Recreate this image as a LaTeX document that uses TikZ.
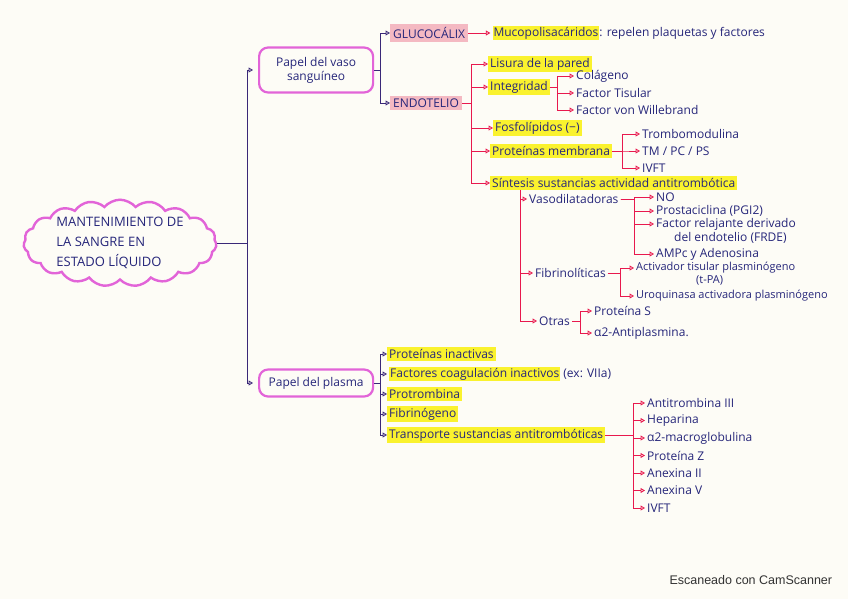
\documentclass[tikz,border=0pt]{standalone}
\usepackage{fontspec}
\setmainfont{Open Sans}
\newfontfamily\scanfont{Liberation Sans}
\usepackage{xcolor}
\usepackage{tikz}
\usetikzlibrary{arrows.meta,positioning,shapes.symbols}

\definecolor{tinta}{HTML}{26267A}
\definecolor{morado}{HTML}{3A2878}
\definecolor{rojo}{HTML}{E8194E}
\definecolor{rosa}{HTML}{E264D8}
\definecolor{amarillo}{HTML}{FAF22E}
\definecolor{rosaclaro}{HTML}{F4B9C2}
\definecolor{fondo}{HTML}{FDFCF6}

\newcommand{\resaltar}[1]{{\setlength{\fboxsep}{1pt}\colorbox{amarillo}{#1}}}

\begin{document}
\begin{tikzpicture}[x=1pt, y=1pt,
    nube/.style={cloud, cloud puffs=19, cloud puff arc=100, aspect=2.6, draw=rosa, line width=2.4pt, inner sep=0pt, align=left, text=tinta, font=\fontsize{13}{20}\selectfont},
    caja/.style={rectangle, draw=rosa, line width=2.2pt, rounded corners=9pt, align=center, text=tinta, minimum width=114pt, anchor=west},
    item/.style={anchor=west, inner sep=2pt, text=tinta, align=left},
    hl/.style={item, fill=amarillo},
    hlrosa/.style={item, fill=rosaclaro, inner sep=3pt},
    arrow/.style={-{Triangle[open,length=4.5pt,width=5pt]}, line width=0.9pt, draw=morado},
    redarrow/.style={arrow, draw=rojo},
    node distance=17pt,
    font=\fontsize{12}{14}\selectfont
]
\fill[fondo] (0,0) rectangle (848,-599);
\useasboundingbox (0,0) rectangle (848,-599);

% root and the two roles
\node[nube] (root) at (120,-243) {MANTENIMIENTO DE\\LA SANGRE EN\\ESTADO LÍQUIDO};
\node[caja, minimum height=45pt] (vaso) at (258,-70) {Papel del vaso\\sanguíneo};
\node[caja, minimum height=27pt] (plasma) at (258,-383) {Papel del plasma};

\draw[arrow, shorten >=5pt] (root.east) -- ++(30,0) |- (vaso.west);
\draw[arrow, shorten >=5pt] (root.east) -- ++(30,0) |- (plasma.west);

% vaso sanguineo
\node[hlrosa] (gluco) at (390,-33) {GLUCOCÁLIX};
\node[item, right=22pt of gluco] (muco) {\resaltar{Mucopolisacáridos}: repelen plaquetas y factores};
\node[hlrosa] (endo) at (390,-103) {ENDOTELIO};

\draw[arrow] (vaso.east) -- ++(6,0) |- (gluco.west);
\draw[arrow] (vaso.east) -- ++(6,0) |- (endo.west);
\draw[redarrow] (gluco) -- (muco);

\node[hl] (lisura) at (488,-64) {Lisura de la pared};
\node[hl] (integ) at (488,-87) {Integridad};
\node[hl] (fosfo) at (493,-128) {Fosfolípidos (−)};
\node[hl] (prot) at (490,-151) {Proteínas membrana};
\node[hl] (sint) at (490,-183) {Síntesis sustancias actividad antitrombótica};

\foreach \n in {lisura,integ,fosfo,prot,sint}
  \draw[redarrow] (endo.east) -- ++(9,0) |- (\n.west);

\node[item] (colag) at (574,-76) {Colágeno};
\node[item, below=of colag.west, anchor=west] (ftis) {Factor Tisular};
\node[item, below=of ftis.west, anchor=west] (fvw) {Factor von Willebrand};

\foreach \n in {colag,ftis,fvw}
  \draw[redarrow] (integ.east) -- ++(7,0) |- (\n.west);

\node[item] (tromb) at (640,-134) {Trombomodulina};
\node[item, below=of tromb.west, anchor=west] (tmpc) {TM / PC / PS};
\node[item, below=of tmpc.west, anchor=west] (ivft) {IVFT};

\foreach \n in {tromb,tmpc,ivft}
  \draw[redarrow] (prot.east) -- ++(10,0) |- (\n.west);

% sintesis
\node[item] (vasod) at (527,-199) {Vasodilatadoras};
\node[item] (fibri) at (533,-273) {Fibrinolíticas};
\node[item] (otras) at (537,-321) {Otras};

\foreach \n in {vasod,fibri,otras}
  \draw[redarrow] ([xshift=30pt]sint.south west) |- (\n.west);

\node[item] (no) at (654,-197) {NO};
\node[item] (prost) at (654,-211) {Prostaciclina (PGI2)};
\node[item] (frde) at (654,-231) {Factor relajante derivado\\\hspace*{18pt}del endotelio (FRDE)};
\node[item] (ampc) at (654,-254) {AMPc y Adenosina};

\foreach \n in {no,prost,ampc}
  \draw[redarrow] (vasod.east) -- ++(14,0) |- (\n.west);
\draw[redarrow] (vasod.east) -- ++(14,0) |- ([yshift=7pt]frde.west);

\node[item, font=\fontsize{11}{13}\selectfont] (activ) at (634,-274) {Activador tisular plasminógeno\\\hspace*{60pt}(t-PA)};
\node[item, font=\fontsize{11}{13}\selectfont] (uroq) at (634,-296) {Uroquinasa activadora plasminógeno};

\draw[redarrow] (fibri.east) -- ++(12,0) |- ([yshift=6pt]activ.west);
\draw[redarrow] (fibri.east) -- ++(12,0) |- (uroq.west);

\node[item] (protS) at (592,-311) {Proteína S};
\node[item] (alfa2) at (592,-333) {α2-Antiplasmina.};

\foreach \n in {protS,alfa2}
  \draw[redarrow] (otras.east) -- ++(8,0) |- (\n.west);

% plasma
\node[hl] (inact) at (387,-354) {Proteínas inactivas};
\node[item, below=20pt of inact.west, anchor=west] (factores) {\resaltar{Factores coagulación inactivos} (ex: VIIa)};
\node[hl, below=20pt of factores.west, anchor=west] (protromb) {Protrombina};
\node[hl, below=20pt of protromb.west, anchor=west] (fibrin) {Fibrinógeno};
\node[hl, below=21pt of fibrin.west, anchor=west] (transp) {Transporte sustancias antitrombóticas};

\foreach \n in {inact,factores,protromb,fibrin,transp}
  \draw[arrow] (plasma.east) -- ++(6,0) |- (\n.west);

\node[item] (at3) at (645,-403) {Antitrombina III};
\node[item, below=17.5pt of at3.west, anchor=west] (hep) {Heparina};
\node[item, below=17.5pt of hep.west, anchor=west] (alfa2m) {α2-macroglobulina};
\node[item, below=17.5pt of alfa2m.west, anchor=west] (protZ) {Proteína Z};
\node[item, below=17.5pt of protZ.west, anchor=west] (anex2) {Anexina II};
\node[item, below=17.5pt of anex2.west, anchor=west] (anex5) {Anexina V};
\node[item, below=17.5pt of anex5.west, anchor=west] (ivft2) {IVFT};

\foreach \n in {at3,hep,alfa2m,protZ,anex2,anex5,ivft2}
  \draw[redarrow] (transp.east) -- ++(28,0) |- (\n.west);

\node[anchor=west, text=black!80, font=\scanfont\fontsize{12.5}{14}\selectfont] (scan) at (666,-580) {Escaneado con CamScanner};
\end{tikzpicture}
\end{document}
